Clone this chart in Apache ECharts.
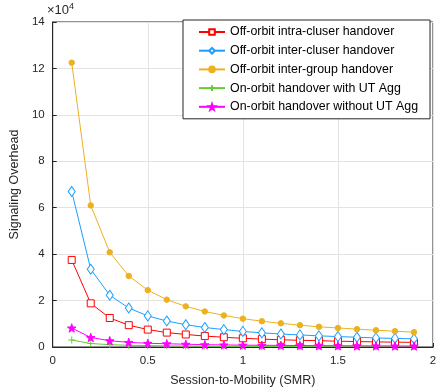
<!DOCTYPE html>
<html><head><meta charset="utf-8">
<script src="https://cdn.jsdelivr.net/npm/echarts@6/dist/echarts.min.js"></script>
<style>html,body{margin:0;padding:0;background:#fff}#c{width:440px;height:392px}</style>
</head><body><div id="c"></div>
<script>
const smr = [0.1,0.2,0.3,0.4,0.5,0.6,0.7,0.8,0.9,1.0,1.1,1.2,1.3,1.4,1.5,1.6,1.7,1.8,1.9];
const intraCluster = [3.75,1.88,1.25,0.94,0.75,0.62,0.54,0.47,0.42,0.375,0.34,0.31,0.29,0.27,0.25,0.235,0.22,0.21,0.20];
const interCluster = [6.7,3.35,2.23,1.68,1.34,1.12,0.96,0.84,0.75,0.67,0.61,0.56,0.52,0.48,0.45,0.42,0.39,0.37,0.35];
const interGroup = [12.25,6.1,4.08,3.06,2.45,2.04,1.75,1.53,1.36,1.22,1.11,1.02,0.94,0.87,0.82,0.77,0.72,0.68,0.64];
const withAgg = [0.3,0.15,0.1,0.075,0.06,0.05,0.043,0.038,0.033,0.03,0.027,0.025,0.023,0.021,0.02,0.019,0.018,0.017,0.016];
const withoutAgg = [0.82,0.41,0.27,0.2,0.16,0.14,0.12,0.10,0.09,0.08,0.075,0.07,0.063,0.058,0.055,0.05,0.048,0.045,0.043];
const names = ['Off-orbit intra-cluser handover','Off-orbit inter-cluser handover','Off-orbit inter-group handover','On-orbit handover with UT Agg','On-orbit handover without UT Agg'];
const yTicks = [0,2,4,6,8,10,12,14];
const xTicks = [0,0.5,1,1.5,2];

const plus = 'path://M5,0L5,10M0,5L10,5';
const star = 'path://M50,0L61.8,35.3L98.1,35.3L68.8,57.1L79.4,90.5L50,70L20.6,90.5L31.2,57.1L1.9,35.3L38.2,35.3Z';
function pts(arr){return smr.map((x,i)=>[x,arr[i]]);}
const ff = 'Liberation Sans, Arial, sans-serif';
const chart = echarts.init(document.getElementById('c'));
const mk = (name, data, color, symbol, size, extra) => Object.assign({
  name, type:'line', data: pts(data), symbol, symbolSize:size,
  lineStyle:{color, width:1}, itemStyle:{color, borderColor:color, borderWidth:1},
  emphasis:{disabled:true}, animation:false, z: 3
}, extra||{});
chart.setOption({
  animation:false,
  textStyle:{fontFamily:ff},
  grid:{left:47, right:7, top:22, bottom:43, show:true, borderColor:'#262626', borderWidth:1},
  xAxis:{type:'value', min:0, max:2, interval:0.5,
    name:'Session-to-Mobility (SMR)', nameLocation:'middle', nameGap:27,
    nameTextStyle:{fontSize:12.5, color:'#262626', fontFamily:ff},
    axisLine:{show:true, lineStyle:{color:'#262626'}},
    axisTick:{inside:true, length:4, lineStyle:{color:'#262626'}},
    axisLabel:{fontSize:11.5, color:'#262626', margin:8, fontFamily:ff, formatter:v=>xTicks.includes(v)?String(v):''},
    splitLine:{show:true, lineStyle:{color:'#e3e3e3'}}},
  yAxis:{type:'value', min:0, max:14, interval:2,
    name:'Signaling Overhead', nameLocation:'middle', nameGap:25,
    nameTextStyle:{fontSize:12.5, color:'#262626', fontFamily:ff},
    axisLine:{show:true, lineStyle:{color:'#262626'}},
    axisTick:{inside:true, length:4, lineStyle:{color:'#262626'}},
    axisLabel:{fontSize:11.5, color:'#262626', margin:8, fontFamily:ff, formatter:v=>yTicks.includes(v)?String(v):''},
    splitLine:{show:true, lineStyle:{color:'#e3e3e3'}}},
  legend:{orient:'vertical', left:183, top:20,
    backgroundColor:'#fff', borderColor:'#262626', borderWidth:1,
    padding:[5,12,5,15], itemWidth:26, itemHeight:7, itemGap:4.7,
    textStyle:{fontSize:12.4, color:'#000', fontFamily:ff, lineHeight:14}, data:names},
  graphic:[{type:'text', left:47, top:2, style:{
    text:'{a|×10}{b|4}', rich:{a:{fontSize:13, fill:'#262626', fontFamily:ff}, b:{fontSize:9, fill:'#262626', verticalAlign:'top', padding:[0,0,8,0], fontFamily:ff}}}}],
  series:[
    mk(names[0], intraCluster, '#ff0000', 'rect', 7, {itemStyle:{color:'#fff', borderColor:'#ff0000', borderWidth:1}}),
    mk(names[1], interCluster, '#1a9fff', 'diamond', [7,10], {itemStyle:{color:'#fff', borderColor:'#1a9fff', borderWidth:1}}),
    mk(names[2], interGroup, '#edb120', 'circle', 5.5),
    mk(names[3], withAgg, '#66cc33', plus, 7, {itemStyle:{color:'#66cc33', borderColor:'#66cc33', borderWidth:1}}),
    mk(names[4], withoutAgg, '#ff00ff', star, 8.5)
  ]
});
</script></body></html>
